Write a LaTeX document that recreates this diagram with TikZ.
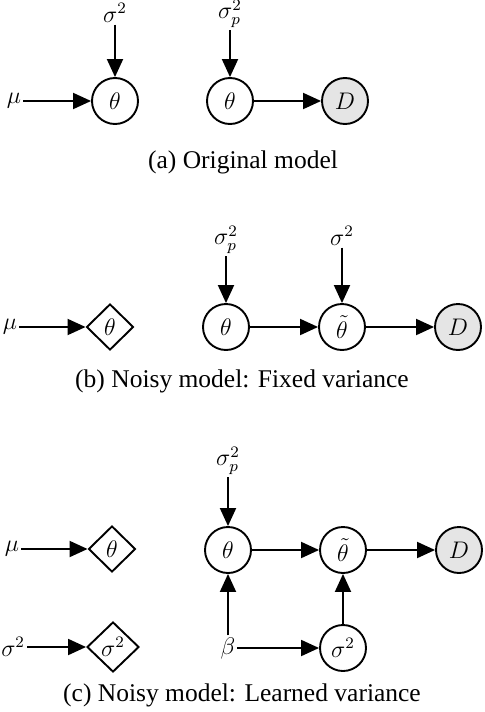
\documentclass[tikz,border=0pt]{standalone}
\usepackage{fontspec}
\setmainfont{Liberation Serif}
\usetikzlibrary{arrows.meta,shapes.geometric}
\begin{document}
\begin{tikzpicture}[x=0.5pt,y=-0.5pt,
  var/.style={circle,draw,line width=0.95pt,minimum size=23pt,inner sep=0pt,font=\fontsize{12}{14}\selectfont},
  obs/.style={var,fill=black!10},
  det/.style={diamond,draw,line width=0.95pt,minimum width=23.5pt,minimum height=23pt,inner sep=0pt,aspect=1,font=\fontsize{12}{14}\selectfont},
  lab/.style={inner sep=0pt,outer sep=1pt,font=\fontsize{12}{14}\selectfont},
  arr/.style={line width=0.95pt,-{Triangle[length=9pt,width=8pt]}},
  captext/.style={inner sep=0pt,font=\fontsize{12.75}{15}\selectfont}]
\useasboundingbox (0,0) rectangle (484,712);
% (a)
\node[lab] (as) at (115,13) {$\sigma^2$};
\node[var] (at1) at (115,101) {$\theta$};
\node[lab,anchor=east] (amu) at (23,101) {$\mu$};
\node[lab] (asp) at (230,14) {$\sigma_p^2$};
\node[var] (at2) at (230,101) {$\theta$};
\node[obs] (aD) at (345,101) {$D$};
\draw[arr] (as) -- (at1);
\draw[arr] (amu) -- (at1);
\draw[arr] (asp) -- (at2);
\draw[arr] (at2) -- (aD);
\node[captext] (capa) at (243,162) {(a) Original model};
% (b)
\node[lab,anchor=east] (bmu) at (19,327) {$\mu$};
\node[det] (bd) at (110,327) {$\theta$};
\node[lab] (bsp) at (226,240) {$\sigma_p^2$};
\node[var] (bt) at (226,327) {$\theta$};
\node[lab] (bs) at (342,236) {$\sigma^2$};
\node[var] (btt) at (342,327) {$\tilde\theta$};
\node[obs] (bD) at (458,327) {$D$};
\draw[arr] (bmu) -- (bd);
\draw[arr] (bsp) -- (bt);
\draw[arr] (bs) -- (btt);
\draw[arr] (bt) -- (btt);
\draw[arr] (btt) -- (bD);
\node[captext] (capb) at (242,381) {(b) Noisy model: Fixed variance};
% (c)
\node[lab,anchor=east] (cmu) at (21,549) {$\mu$};
\node[det] (cd1) at (112,549) {$\theta$};
\node[lab,anchor=east] (cs) at (27,647) {$\sigma^2$};
\node[det,minimum width=26pt,minimum height=25pt] (cd2) at (113,647) {$\sigma^2$};
\node[lab] (csp) at (228,461) {$\sigma_p^2$};
\node[var] (ct) at (228,550) {$\theta$};
\node[var] (ctt) at (343,550) {$\tilde\theta$};
\node[obs] (cD) at (459,550) {$D$};
\node[lab] (cb) at (228,648) {$\beta$};
\node[var] (cv) at (343,648) {$\sigma^2$};
\draw[arr] (cmu) -- (cd1);
\draw[arr] (cs) -- (cd2);
\draw[arr] (csp) -- (ct);
\draw[arr] (ct) -- (ctt);
\draw[arr] (ctt) -- (cD);
\draw[arr] (cb) -- (ct);
\draw[arr] (cb) -- (cv);
\draw[arr] (cv) -- (ctt);
\node[captext] (capc) at (242,695) {(c) Noisy model: Learned variance};
\end{tikzpicture}
\end{document}
